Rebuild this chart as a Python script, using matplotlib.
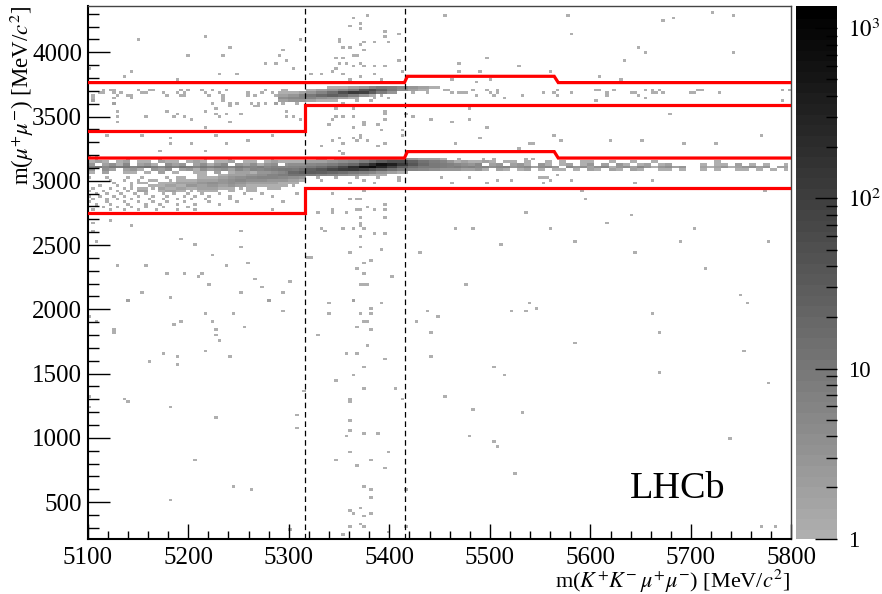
# -*- coding: utf-8 -*-
# m(mu+mu-) vs m(KKmumu) 2D histogram
import numpy as np
import matplotlib
matplotlib.use("Agg")
import matplotlib.pyplot as plt
from matplotlib.colors import LinearSegmentedColormap, LogNorm
from matplotlib.ticker import FixedLocator, MultipleLocator, NullFormatter

plt.rcParams["font.family"] = ["Liberation Serif", "DejaVu Serif"]
plt.rcParams["mathtext.fontset"] = "stix"

# ------------------------------------------------------- isolated single hits
hits = [
    (5151,4096),(5218,4119),(5199,3971),(5241,4034),(5234,3971),(5294,4018),(5290,3971),(5298,3932),
    (5276,3909),(5287,3909),(5313,4096),(5304,3870),(5232,3831),(5248,3831),(5144,3847),(5137,3808),
    (5102,3870),(5188,3785),(5377,4283),(5364,4260),(5371,4220),(5361,4197),(5371,4180),(5396,4158),
    (5409,4135),(5396,4112),(5350,4096),(5350,4073),(5376,4073),(5384,4073),(5399,4073),(5359,4034),
    (5354,4034),(5371,4065),(5374,4026),(5364,3971),(5369,3971),(5347,3956),(5354,3956),(5409,3932),
    (5371,3909),(5351,3909),(5356,3909),(5347,3870),(5364,3886),(5376,3886),(5386,3886),(5397,3886),
    (5331,3831),(5321,3831),(5343,3852),(5354,3831),(5371,3805),(5384,3831),(5392,3800),(5414,3844),
    (5361,3800),(5123,2687),(5144,2648),(5252,2601),(5106,2664),(5106,2612),(5109,2521),(5193,2539),
    (5206,2500),(5252,2477),(5224,2414),(5259,2352),(5238,2337),(5130,2337),(5158,2337),(5179,2274),
    (5196,2274),(5213,2274),(5210,2251),(5220,2189),(5266,2228),(5273,2165),(5154,2126),(5252,2126),
    (5295,2126),(5301,2212),(5183,2087),(5280,2072),(5140,2072),(5318,2399),(5322,2399),(5361,2438),
    (5371,2477),(5392,2461),(5369,2313),(5374,2352),(5382,2376),(5374,2274),(5402,2251),(5370,2204),
    (5377,2204),(5374,2189),(5430,2438),(5364,2072),(5329,2749),(5343,2780),(5343,2749),(5356,2749),
    (5367,2773),(5371,2773),(5377,2788),(5384,2773),(5397,2773),(5396,2710),(5371,2710),(5361,2858),
    (5366,2866),(5371,2866),(5397,2811),(5376,2923),(5344,2905),(5334,2625),(5336,2607),(5354,2625),
    (5363,2625),(5371,2651),(5374,2625),(5386,2594),(5397,2594),(5371,2560),(5371,2664),(5119,3351),
    (5154,3351),(5183,3286),(5203,3286),(5238,3286),(5183,3328),(5218,3416),(5228,3351),(5285,3351),
    (5260,3312),(5172,3227),(5218,3227),(5107,3196),(5102,3196),(5129,3541),(5129,3499),(5129,3463),
    (5158,3494),(5179,3541),(5184,3494),(5189,3525),(5197,3507),(5203,3473),(5218,3541),(5228,3559),
    (5228,3520),(5232,3507),(5242,3585),(5238,3520),(5252,3525),(5265,3585),(5271,3585),(5278,3598),
    (5288,3598),(5298,3533),(5298,3494),(5303,3494),(5311,3481),(5242,3468),(5126,3598),(5106,3624),
    (5344,3489),(5347,3494),(5354,3494),(5364,3494),(5374,3455),(5347,3559),(5364,3572),(5397,3520),
    (5397,3481),(5339,3437),(5363,3411),(5374,3437),(5392,3395),(5412,3364),(5371,3364),(5371,3338),
    (5350,3338),(5364,3325),(5344,3307),(5334,3273),(5354,3299),(5369,3312),(5379,3312),(5389,3273),
    (5397,3286),(5351,3222),(5354,3208),(5414,3390),(5424,3494),(5440,3476),(5447,3585),(5407,3577),
    (5394,3546),(5387,3442),(5415,3515),(5455,4283),(5577,4283),(5580,4135),(5672,4244),(5682,4260),
    (5721,4306),(5742,4283),(5647,4034),(5654,3995),(5742,3995),(5633,3932),(5497,3956),(5469,3909),
    (5529,3894),(5469,3847),(5490,3847),(5560,3847),(5608,3808),(5462,3785),(5486,3769),(5500,3785),
    (5630,3785),(5479,3559),(5679,3520),(5749,3582),(5462,3458),(5479,3473),(5497,3411),(5490,3333),
    (5564,3349),(5571,3310),(5619,3310),(5651,3310),(5693,3286),(5725,3286),(5770,3349),(5465,3286),
    (5540,3286),(5543,3286),(5529,3247),(5507,2998),(5521,2998),(5550,3022),(5553,3022),(5553,2975),
    (5560,2998),(5567,3037),(5580,2998),(5462,2975),(5497,2975),(5644,2975),(5661,2998),(5714,2933),
    (5721,2933),(5773,2913),(5592,2913),(5594,2850),(5535,2749),(5640,2726),(5465,2625),(5483,2625),
    (5560,2625),(5615,2664),(5703,2625),(5511,2500),(5585,2523),(5689,2523),(5776,2523),(5644,2438),
    (5714,2313),(5476,2189),(5749,2103),(5539,2044),(5521,1982),(5535,1982),(5546,2005),(5661,1966),
    (5756,2044),(5668,1818),(5585,1733),(5753,1670),(5504,1546),(5514,1491),(5668,1507),(5776,1429),
    (5455,1320),(5483,1219),(5532,1196),(5479,1009),(5504,970),(5507,931),(5739,993),(5525,721),
    (5770,308),(5783,308),(5140,2065),(5281,2065),(5340,2044),(5364,2065),(5392,2044),(5382,2005),
    (5382,1966),(5371,1966),(5340,1966),(5102,1943),(5218,1966),(5246,1966),(5295,1982),(5437,1982),
    (5448,1943),(5109,1901),(5193,1901),(5224,1901),(5185,1881),(5427,1904),(5377,1914),(5374,1901),
    (5368,1857),(5255,1857),(5228,1842),(5382,1842),(5126,1842),(5126,1818),(5441,1818),(5228,1795),
    (5329,1795),(5232,1756),(5378,1717),(5218,1670),(5175,1655),(5357,1655),(5368,1655),(5189,1632),
    (5241,1632),(5441,1632),(5161,1593),(5396,1608),(5189,1569),(5375,1546),(5364,1491),(5347,1445),
    (5375,1382),(5405,1382),(5315,1367),(5102,1318),(5137,1302),(5140,1281),(5361,1302),(5361,1281),
    (5414,1302),(5102,1242),(5183,1242),(5308,1180),(5228,1157),(5361,1133),(5308,1071),(5361,1055),
    (5357,1009),(5375,1032),(5389,1032),(5361,884),(5399,884),(5207,822),(5347,822),(5382,822),
    (5368,783),(5396,760),(5246,619),(5262,596),(5375,619),(5382,596),(5382,534),(5183,510),
    (5361,433),(5364,410),(5371,448),(5382,410),(5375,386),(5361,316),(5371,325),(5375,316),
    (5301,285),(5354,246),(5399,261),(5416,305),(5416,596),
]

# ------------------------------------------------------- rows of single hits
row_y_upper = [3717, 3696, 3676, 3655, 3629, 3600]
row_x_upper = [
    [5114,5122,5125,5152,5160,5165,5193,5200,5215,5223,5237,5278,5293,5298,5455,5459,5483,5497,5507,5567,5605,5608,5622,5654,5661,5668,5706,5711,5790,5797],
    [5112,5117,5127,5134,5154,5157,5175,5188,5197,5218,5232,5260,5273,5283,5296,5319,5331,5345,5400,5422,5436,5462,5469,5472,5475,5500,5507,5553,5564,5580,5615,5641,5644,5661,5666,5672,5699,5703,5728],
    [5106,5129,5139,5145,5177,5192,5195,5220,5233,5260,5266,5286,5303,5309,5324,5340,5392,5486,5504,5532,5567,5615,5647],
    [5104,5125,5144,5233,5309,5313,5322,5338,5385,5398,5514,5654],
    [5104,5233,5299,5305,5309,5345,5368,5382,5605,5790],
    [5125,5225,5240,5248,5263,5270,5288,5293,5309,5352],
]
row_y_lower = [3160, 3020, 3000, 2984, 2963, 2942, 2921, 2901, 2880, 2859, 2838, 2818, 2797, 2776]
row_x_lower = [
    [5110,5140,5172,5218,5240,5282,5330,5345,5372,5404,5425,5445,5470,5492,5505,5537,5543],
    [5103,5118,5140,5155,5178,5195,5212,5228,5250,5330,5348,5368,5390,5408,5450,5480,5556],
    [5121,5137,5152,5168,5183,5210,5238,5262,5280,5298,5334,5374,5410],
    [5126,5145,5149,5172,5185,5190,5197,5203,5210,5232,5258,5276,5296,5362,5385],
    [5112,5130,5144,5160,5172,5180,5185,5192,5198,5203,5210,5244,5270,5305],
    [5104,5123,5135,5142,5150,5165,5178,5188,5196,5206,5215,5228,5252,5290],
    [5101,5116,5128,5140,5153,5170,5180,5192,5204,5212,5224,5240,5262],
    [5108,5120,5134,5146,5158,5174,5184,5199,5215,5231,5254,5272,5308],
    [5103,5113,5126,5138,5152,5166,5180,5196,5208,5222,5242,5285],
    [5106,5118,5131,5144,5160,5176,5190,5202,5216,5240,5263],
    [5101,5120,5136,5150,5165,5178,5196,5219,5250,5295],
    [5109,5124,5140,5156,5172,5189,5206,5232],
    [5116,5130,5143,5158,5176,5200],
    [5104,5121,5135,5150,5168,5188,5208,5282],
]

# ------------------------------------------------------- dense bands, entries per cell
# J/psi band left of the window: x from 5100 in steps of 7
jpsi_left_y = [3140, 3120, 3100, 3080, 3060]
jpsi_left_n = [
    [1,2,1,0,1,2,0,1,1,0,2,1,1,0,1,2,1,0,1,1,2,0,1,1,0,1,2,1,1],
    [3,0,2,4,1,5,0,2,3,1,0,4,2,3,0,2,4,1,3,5,0,3,2,4,1,3,4,0,3],
    [7,9,5,10,8,11,6,9,12,8,5,10,7,11,8,6,9,7,10,8,6,9,7,6,8,5,7,6,5],
    [3,0,4,2,0,2,3,1,0,3,2,4,0,2,3,1,4,2,3,4,2,5,3,6,5,7,8,10,11],
    [1,0,2,0,0,1,1,0,1,0,2,0,1,0,0,1,1,0,2,0,1,2,2,1,3,3,4,5,7],
]
# J/psi band right of the window: x from 5416 in steps of 7
jpsi_right_y = [3140, 3120, 3100, 3080]
jpsi_right_n = [
    [8,7,5,4,3,2,3,1,2,1, 1,2,1,0,1,1,0,1,0,0, 1,0,1,0,0,1,1,0,0,1, 0,0,1,0,0,1,0,0,0,0, 0,0,0,0,1,0,0,0,0,0, 0,0,0,0,0],
    [30,20,15,10,8,6,7,5,4,3, 5,0,2,3,0,2,3,1,0,3, 1,0,1,2,0,1,3,0,2,0, 3,1,0,1,2,0,1,2,0,0, 0,0,1,0,1,1,0,2,0,1, 0,1,0,0,1],
    [15,12,10,9,10,8,7,8,6,7, 5,6,4,5,6,3,4,5,2,4, 5,3,0,5,3,4,2,4,5,1, 3,4,2,5,3,1,3,4,2,3, 0,0,2,1,2,3,1,2,3,4, 2,3,0,2,2],
    [6,5,4,3,4,2,3,3,2,2, 3,1,0,2,1,0,1,2,0,1, 0,1,1,0,1,0,2,1,0,2, 1,0,2,1,0,0,1,1,0,1, 0,0,1,0,1,0,0,1,1,0, 1,0,1,0,1],
]
# feed-down band rising to the signal: x from 5150 in steps of 10
feed_y = [2921, 2942, 2963, 2984, 3004, 3025, 3045]
feed_n = [
    [2,0,1,2,1,0,1,1,0,1,0,1,0,0,0,0,0],
    [1,0,2,1,2,1,2,2,1,1,0,1,0,1,0,0,0],
    [0,1,1,2,1,3,2,3,2,3,2,1,1,1,1,0,0],
    [1,0,1,1,2,2,3,4,3,4,3,2,2,2,1,1,0],
    [0,1,0,0,1,1,2,2,3,4,5,4,4,3,3,2,1],
    [0,0,0,0,1,0,1,1,2,3,4,5,6,6,5,4,3],
    [0,0,0,0,0,0,1,0,1,2,2,3,4,6,8,10,12],
]
# J/psi signal ridge: x from 5300 in steps of 10
ridge_y = [3040, 3060, 3080, 3100, 3120, 3140, 3160]
ridge_n = [
    [12,10,8,6,5,4,3,2,1,1,0,0,0,0,0,0],
    [20,25,28,25,20,14,10,7,5,3,2,1,0,0,0,0],
    [10,14,24,40,70,110,120,80,45,25,14,8,6,5,4,3],
    [6,7,9,14,25,60,200,600,800,300,90,30,14,10,8,7],
    [4,4,5,6,8,12,20,60,200,600,350,120,40,16,10,8],
    [1,1,2,2,3,4,5,8,14,28,50,50,25,12,8,6],
    [0,0,0,1,0,1,1,2,3,4,5,4,3,2,2,1],
]
# psi(2S) signal ridge: x from 5290 in steps of 10
psi_y = [3620, 3640, 3660, 3680, 3700, 3720]
psi_n = [
    [2,3,3,2,1,1,0,0,0,0,0,0,0,0,0,0],
    [4,5,6,6,4,3,2,1,0,0,0,0,0,0,0,0],
    [2,3,6,10,16,25,20,8,3,1,0,0,0,0,0,0],
    [1,1,2,3,6,14,50,120,100,30,8,3,0,0,0,0],
    [0,0,0,1,2,3,5,10,40,60,25,10,4,2,1,0],
    [0,0,0,0,0,1,1,2,3,6,10,8,5,3,2,1],
]

# ------------------------------------------------------- selection boxes and windows
box_top_x = [5100, 5415, 5418, 5564, 5568, 5800]
box_top_y = [3764, 3764, 3813, 3813, 3764, 3764]
box_psi_low_x = [5100, 5316, 5316, 5800]
box_psi_low_y = [3390, 3390, 3587, 3587]
box_jpsi_up_x = [5100, 5415, 5418, 5564, 5568, 5800]
box_jpsi_up_y = [3177, 3177, 3227, 3227, 3177, 3177]
box_jpsi_low_x = [5100, 5316, 5316, 5800]
box_jpsi_low_y = [2747, 2747, 2944, 2944]
window_x = [5316, 5416]

x_edges = np.linspace(5100, 5800, 201)
y_edges = np.linspace(215, 4360, 201)

# ------------------------------------------------------- fill the histogram
H = np.zeros((200, 200))
def xbin(x):
    return int(np.clip(np.searchsorted(x_edges, x, side="right") - 1, 0, 199))
def ybin(y):
    return int(np.clip(np.searchsorted(y_edges, y, side="right") - 1, 0, 199))
def fill_table(x0, step, rows_y, rows_n):
    for y, counts in zip(rows_y, rows_n):
        for i, n in enumerate(counts):
            j0, j1 = xbin(x0 + i * step), xbin(x0 + (i + 1) * step)
            H[ybin(y), j0:j1] = np.maximum(H[ybin(y), j0:j1], n)

for x, y in hits:
    H[ybin(y), xbin(x)] += 1
for row_y, row_x in zip(row_y_upper + row_y_lower, row_x_upper + row_x_lower):
    for x in row_x:
        H[ybin(row_y), xbin(x)] += 1
fill_table(5100, 7, jpsi_left_y, jpsi_left_n)
fill_table(5416, 7, jpsi_right_y, jpsi_right_n)
fill_table(5150, 10, feed_y, feed_n)
fill_table(5300, 10, ridge_y, ridge_n)
fill_table(5290, 10, psi_y, psi_n)

# ------------------------------------------------------- picture
fig = plt.figure(figsize=(8.82, 5.94), dpi=100)
W, HH = 882.0, 594.0
ax = fig.add_axes([87.7 / W, 1 - 538.7 / HH, (791.5 - 87.7) / W, (538.7 - 6) / HH])
cax = fig.add_axes([796 / W, 1 - 538.7 / HH, 40.5 / W, (538.7 - 6) / HH])

cmap = LinearSegmentedColormap.from_list("grey", ["#afafaf", "#000000"], N=50)
norm = LogNorm(vmin=1, vmax=1350)
mesh = ax.pcolormesh(x_edges, y_edges, np.ma.masked_less(H, 1), cmap=cmap, norm=norm,
                     linewidth=0, antialiased=False)

for bx, by in [(box_top_x, box_top_y), (box_psi_low_x, box_psi_low_y),
               (box_jpsi_up_x, box_jpsi_up_y), (box_jpsi_low_x, box_jpsi_low_y)]:
    ax.plot(bx, by, color="#ff0000", lw=2.3, solid_joinstyle="miter", zorder=4)
for wx in window_x:
    ax.axvline(wx, color="black", lw=0.9, ls=(0, (4.5, 3)), zorder=3)

ax.set_xlim(5100, 5800)
ax.set_ylim(215, 4360)
ax.xaxis.set_major_locator(MultipleLocator(100))
ax.xaxis.set_minor_locator(MultipleLocator(20))
ax.yaxis.set_major_locator(MultipleLocator(500))
ax.yaxis.set_minor_locator(MultipleLocator(100))
ax.tick_params(axis="both", which="both", direction="in", top=False, right=False, color="black")
ax.tick_params(axis="x", which="major", length=11, width=1, labelsize=18, pad=6)
ax.tick_params(axis="x", which="minor", length=5.5, width=1)
ax.tick_params(axis="y", which="major", length=16, width=1, labelsize=18, pad=4)
ax.tick_params(axis="y", which="minor", length=8, width=1)
for side, spine in ax.spines.items():
    spine.set_linewidth(1.5 if side in ("left", "bottom") else 1.0)
    spine.set_color("black" if side in ("left", "bottom") else "#444444")

ax.text(5687, 532, "LHCb", fontsize=27.5, ha="center", va="baseline", color="black")
fig.text(790 / W, 1 - 588 / HH, r"m($K^{+}K^{-}\,\mu^{+}\mu^{-}$) [MeV/$c^{2}$]",
         fontsize=16, ha="right", va="baseline")
fig.text(22 / W, 1 - 6 / HH, r"m($\mu^{+}\mu^{-}$) [MeV/$c^{2}$]",
         fontsize=16.5, ha="center", va="top", rotation=90)

cb = fig.colorbar(mesh, cax=cax)
cb.outline.set_visible(False)
cb.solids.set_edgecolor("face")
cax.yaxis.set_major_locator(FixedLocator([1, 10, 100, 1000]))
cax.yaxis.set_minor_locator(FixedLocator([m * d for d in (1, 10, 100) for m in range(2, 10)]))
cax.yaxis.set_minor_formatter(NullFormatter())
cax.set_yticklabels(["1", "10", "$10^{2}$", "$10^{3}$"])
cax.tick_params(axis="y", which="major", direction="in", length=16, width=1, labelsize=16.5, pad=8, color="black")
cax.tick_params(axis="y", which="minor", direction="in", length=8, width=1, color="black")

fig.savefig("out.png", dpi=100)
